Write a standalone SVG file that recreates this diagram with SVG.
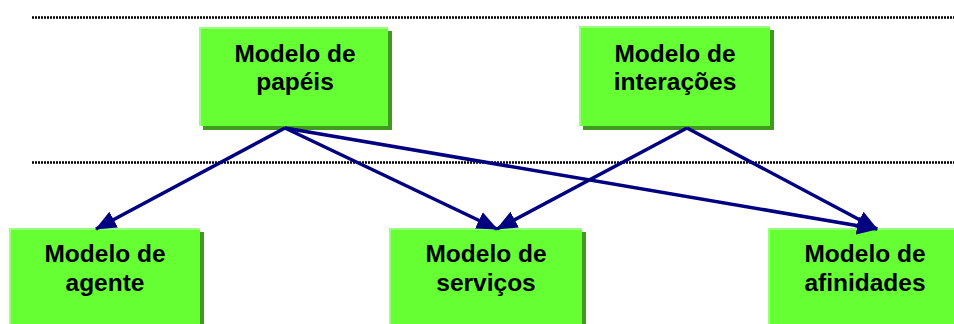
<svg xmlns="http://www.w3.org/2000/svg" width="954" height="324" viewBox="0 0 954 324">
<defs>
<style>
.shadow{fill:#3f9a1e}
.box{fill:#66ff33}
.hl{fill:none;stroke:#99ff80;stroke-width:2}
.t{font-family:"Liberation Sans",Arial,sans-serif;font-weight:bold;font-size:24.5px;fill:#000;text-anchor:middle}
.dot{stroke:#000;stroke-width:2.5;stroke-dasharray:2 1;fill:none}
.c{stroke:#000080;stroke-width:3.5;fill:none;marker-end:url(#ah)}
</style>
<marker id="ah" markerUnits="userSpaceOnUse" markerWidth="22" markerHeight="22" viewBox="0 0 22 22" refX="20" refY="11" orient="auto">
<path d="M0,2 L21,11 L0,20 Z" fill="#000080"/>
</marker>
</defs>
<rect width="954" height="324" fill="#fff"/>
<line class="dot" x1="32" y1="17.5" x2="954" y2="17.5"/>
<line class="dot" x1="32" y1="162.5" x2="954" y2="162.5"/>
<g id="papeis">
<rect class="shadow" x="203" y="31" width="189" height="99"/>
<rect class="box" x="199" y="27" width="189" height="99"/>
<polyline class="hl" points="200,126 200,28 388,28"/>
<text class="t" x="295" y="62">Modelo de</text>
<text class="t" x="295" y="90">papéis</text>
</g>
<g id="interacoes">
<rect class="shadow" x="583" y="30" width="191" height="100"/>
<rect class="box" x="579" y="26" width="191" height="100"/>
<polyline class="hl" points="580,126 580,27 770,27"/>
<text class="t" x="675" y="62">Modelo de</text>
<text class="t" x="675" y="90">interações</text>
</g>
<g id="agente">
<rect class="shadow" x="13" y="232" width="191" height="100"/>
<rect class="box" x="9" y="228" width="191" height="100"/>
<polyline class="hl" points="10,328 10,229 200,229"/>
<text class="t" x="105" y="262">Modelo de</text>
<text class="t" x="105" y="291">agente</text>
</g>
<g id="servicos">
<rect class="shadow" x="393" y="232" width="193" height="100"/>
<rect class="box" x="389" y="228" width="193" height="100"/>
<polyline class="hl" points="390,328 390,229 582,229"/>
<text class="t" x="486" y="262">Modelo de</text>
<text class="t" x="486" y="291">serviços</text>
</g>
<g id="afinidades">
<rect class="shadow" x="772" y="232" width="193" height="100"/>
<rect class="box" x="768" y="228" width="193" height="100"/>
<polyline class="hl" points="769,328 769,229 961,229"/>
<text class="t" x="865" y="262">Modelo de</text>
<text class="t" x="865" y="291">afinidades</text>
</g>
<g id="connectors">
<line class="c" x1="285" y1="128" x2="96" y2="229"/>
<line class="c" x1="285" y1="128" x2="497" y2="229"/>
<line class="c" x1="285" y1="128" x2="877" y2="229"/>
<line class="c" x1="687" y1="128" x2="497" y2="229"/>
<line class="c" x1="687" y1="128" x2="877" y2="229"/>
</g>
</svg>
